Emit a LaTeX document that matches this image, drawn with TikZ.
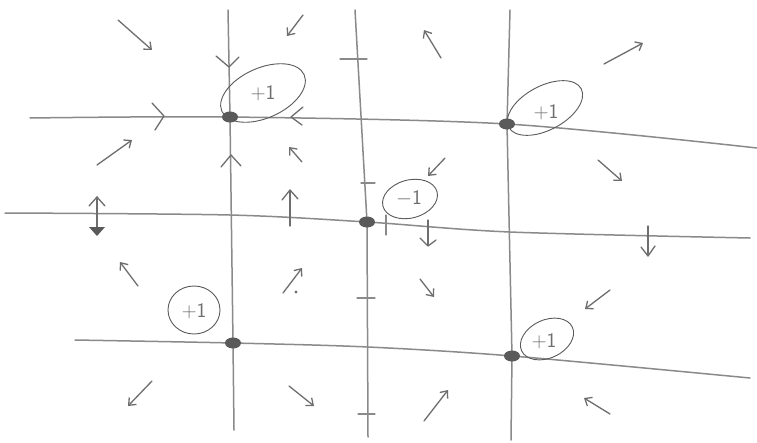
\documentclass[tikz,border=0pt]{standalone}
\usetikzlibrary{arrows.meta,shapes.geometric}
\definecolor{pencil}{HTML}{8A8A8A}
\definecolor{lead}{HTML}{5A5A5A}
\definecolor{ink}{HTML}{6E6E6E}
\begin{document}
\begin{tikzpicture}[x=1pt,y=-1pt,
  pline/.style={draw=pencil,line width=1.5pt,line cap=round,line join=round},
  fieldarrow/.style={draw=ink,line width=1.3pt,line cap=round,-{Straight Barb[length=6pt,width=10pt]}},
  chev/.style={draw=ink,line width=1.3pt,line cap=round,line join=round},
  tickmark/.style={draw=pencil,line width=1.3pt,line cap=round},
  loop/.style={draw=lead,line width=0.9pt},
  zero/.style={fill=lead,draw=none,ellipse,minimum width=16pt,minimum height=11pt,inner sep=0pt},
  idx/.style={text=ink,font=\sffamily\huge}]
\useasboundingbox (0,0) rectangle (757,442);
\fill[white] (0,0) rectangle (757,442);
% end points of the sketched lines
\coordinate (v1t) at (228,10);  \coordinate (v1b) at (234,430);
\coordinate (v2t) at (355,10);  \coordinate (v2b) at (368,437);
\coordinate (v3t) at (510,10);  \coordinate (v3b) at (511,440);
\coordinate (h1l) at (30,118);  \coordinate (h1r) at (757,148);
\coordinate (h2l) at (5,213);   \coordinate (h2r) at (750,238);
\coordinate (h3l) at (75,340);  \coordinate (h3r) at (750,378);
% lines
\draw[pline] (v1t) -- (230,117) -- (233,343) -- (v1b);
\draw[pline] (v2t) -- (367,222) -- (v2b);
\draw[pline] (v3t) -- (507,124) -- (512,356) -- (v3b);
\draw[pline] plot[smooth] coordinates {(h1l) (230,117) (507,124) (h1r)};
\draw[pline] plot[smooth] coordinates {(h2l) (230,215) (367,222) (510,232) (h2r)};
\draw[pline] plot[smooth] coordinates {(h3l) (233,343) (368,347) (512,356) (h3r)};
% ticks on middle vertical line and middle horizontal line
\draw[tickmark] (340,59) -- (367,59);
\draw[tickmark] (361,183) -- (375,183);
\draw[tickmark] (357,298) -- (375,298);
\draw[tickmark] (358,414) -- (375,414);
\draw[tickmark] (386,215) -- (386,235);
% index loops
\draw[loop,rotate around={24:(263,93)}] (263,93) ellipse[x radius=45,y radius=25];
\draw[loop,rotate around={28:(545,108)}] (545,108) ellipse[x radius=41,y radius=22];
\draw[loop,rotate around={15:(410,199)}] (410,199) ellipse[x radius=28,y radius=19];
\draw[loop] (194,310) ellipse[x radius=26,y radius=24];
\draw[loop,rotate around={25:(547,339)}] (547,339) ellipse[x radius=28,y radius=19];
\node[idx] (l1) at (263,93) {+1};
\node[idx] (l2) at (546,112) {+1};
\node[idx] (l3) at (409,198) {$-$1};
\node[idx] (l4) at (194,311) {+1};
\node[idx] (l5) at (544,341) {+1};
% zeros
\node[zero] (z1) at (230,117) {};
\node[zero] (z2) at (367,222) {};
\node[zero] (z3) at (507,124) {};
\node[zero] (z4) at (233,343) {};
\node[zero] (z5) at (512,356) {};
% chevrons on the lines
\draw[chev] (216,56) -- (229,67) -- (239,57);
\draw[chev] (221,167) -- (231,155) -- (241,166);
\draw[chev] (152,103) -- (164,116) -- (155,130);
\draw[chev] (303,107) -- (291,117) -- (302,125);
% vertical arrows across the middle line
\draw[chev] (97,197) -- (97,228);
\draw[chev] (89,206) -- (97,197) -- (105,206);
\fill[lead] (89,227) -- (105,227) -- (97,236) -- cycle;
\draw[chev] (290,226) -- (290,191);
\draw[chev] (282,200) -- (290,190) -- (298,199);
\draw[chev] (428,220) -- (428,245);
\draw[chev] (420,238) -- (428,246) -- (436,240);
\draw[chev] (648,226) -- (648,255);
\draw[chev] (641,247) -- (648,256) -- (655,246);
% free field arrows
\coordinate (ft1) at (118,20);  \coordinate (fh1) at (152,50);
\coordinate (ft2) at (303,15);  \coordinate (fh2) at (287,36);
\coordinate (ft3) at (441,58);  \coordinate (fh3) at (424,30);
\coordinate (ft4) at (604,64);  \coordinate (fh4) at (643,43);
\coordinate (ft5) at (97,165);  \coordinate (fh5) at (132,140);
\coordinate (ft6) at (302,162); \coordinate (fh6) at (289,147);
\coordinate (ft7) at (598,160); \coordinate (fh7) at (622,181);
\coordinate (ft8) at (445,158); \coordinate (fh8) at (428,176);
\coordinate (ft9) at (138,286); \coordinate (fh9) at (120,262);
\coordinate (ft10) at (283,293); \coordinate (fh10) at (302,268);
\coordinate (ft11) at (152,381); \coordinate (fh11) at (128,406);
\coordinate (ft12) at (289,386); \coordinate (fh12) at (314,406);
\coordinate (ft13) at (420,279); \coordinate (fh13) at (434,297);
\coordinate (ft14) at (610,290); \coordinate (fh14) at (585,309);
\coordinate (ft15) at (424,421); \coordinate (fh15) at (448,390);
\coordinate (ft16) at (610,414); \coordinate (fh16) at (584,398);
\foreach \i in {1,...,16} \draw[fieldarrow] (ft\i) -- (fh\i);
\fill[ink] (296,292) circle (1.6pt);
\end{tikzpicture}
\end{document}
